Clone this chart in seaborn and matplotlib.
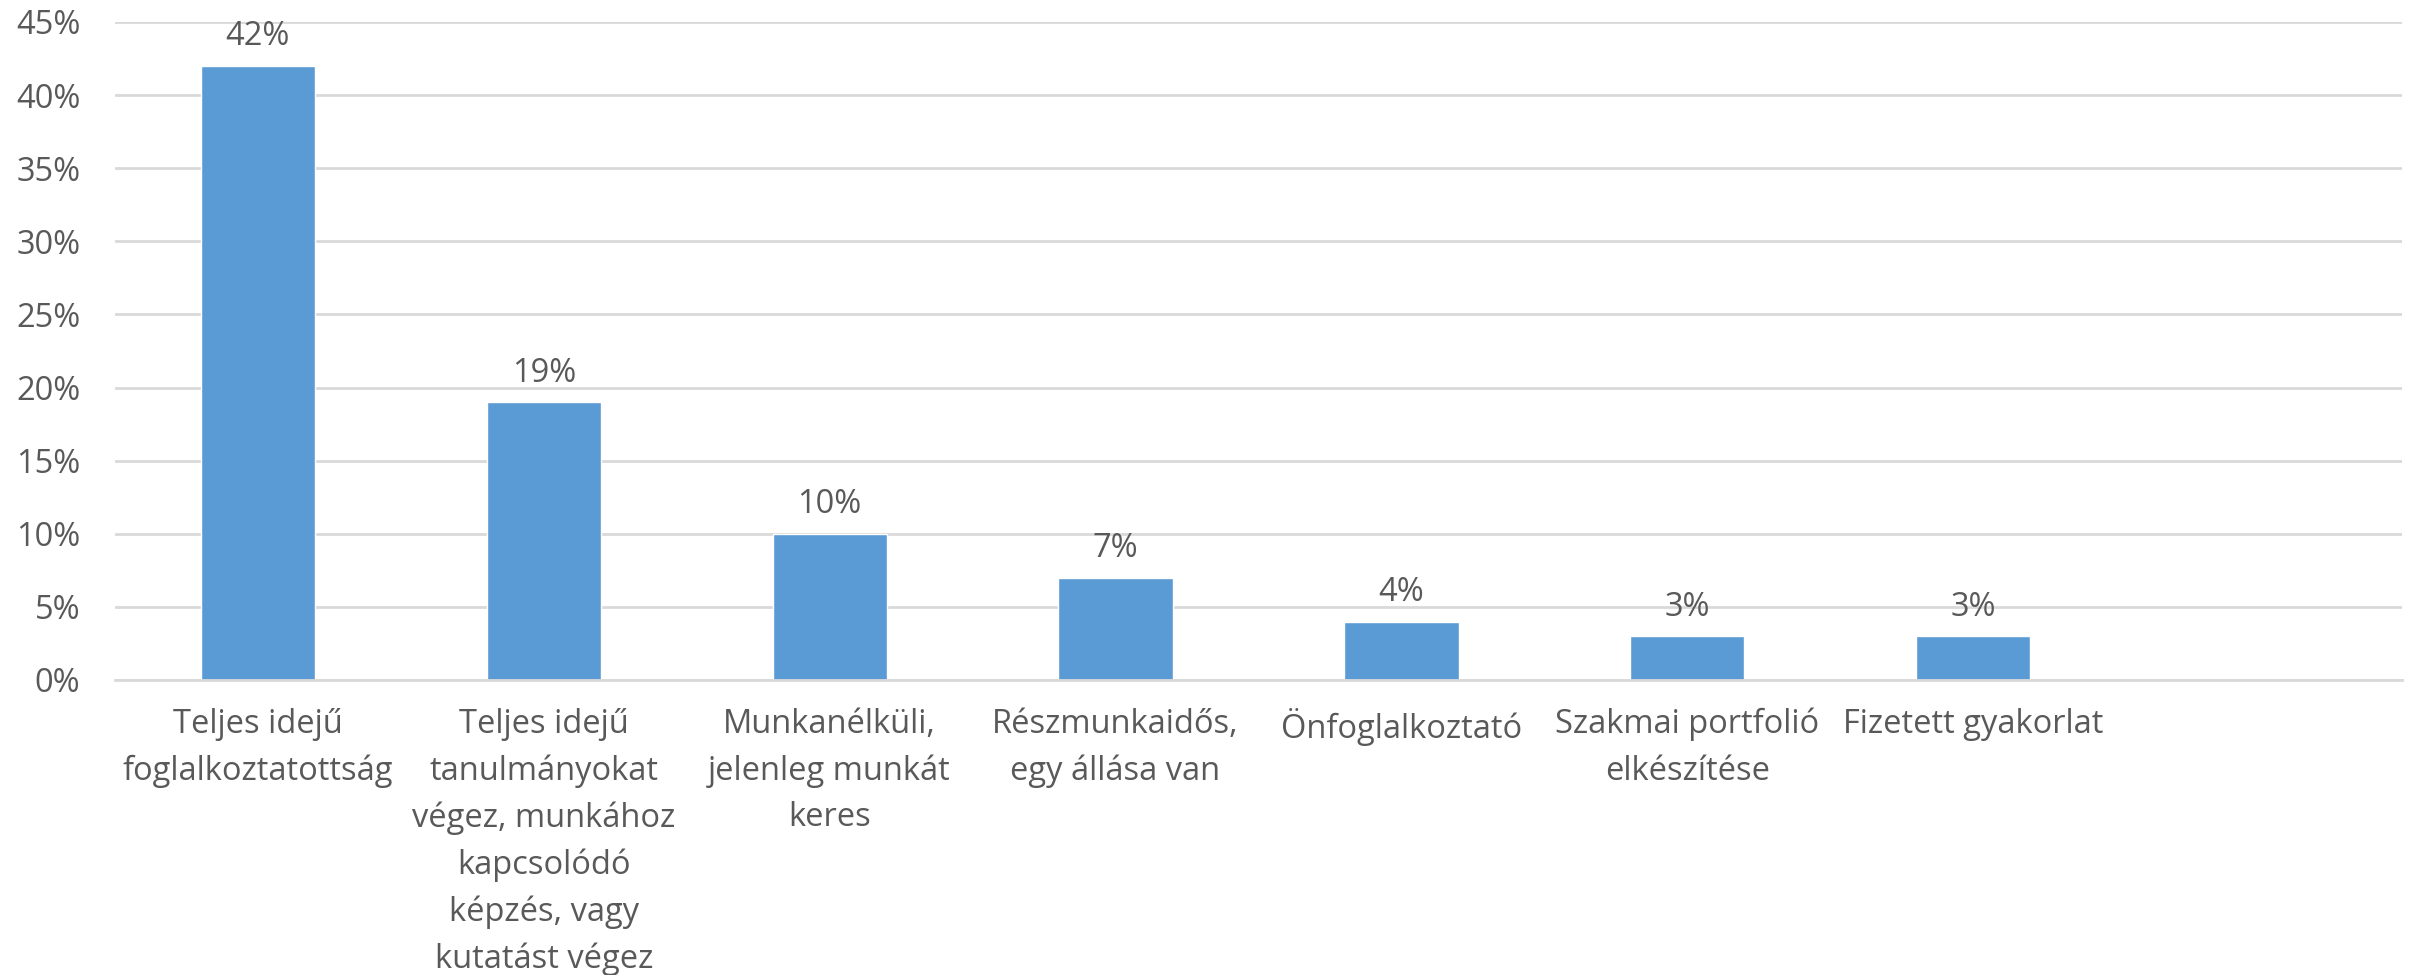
import matplotlib
matplotlib.use("Agg")
import matplotlib.pyplot as plt
import seaborn as sns
import pandas as pd

categories = [
    "Teljes idejű\nfoglalkoztatottság",
    "Teljes idejű\ntanulmányokat\nvégez, munkához\nkapcsolódó\nképzés, vagy\nkutatást végez",
    "Munkanélküli,\njelenleg munkát\nkeres",
    "Részmunkaidős,\negy állása van",
    "Önfoglalkoztató",
    "Szakmai portfolió\nelkészítése",
    "Fizetett gyakorlat",
]
values = [42, 19, 10, 7, 4, 3, 3]
yticks = [0, 5, 10, 15, 20, 25, 30, 35, 40, 45]

sns.set_theme(style="white")
plt.rcParams['font.family'] = ['Open Sans', 'DejaVu Sans']

TEXT = "#595959"
GRID = "#d9d9d9"
BAR = "#5b9bd5"
FS = 23.5

df = pd.DataFrame({"cat": categories, "val": values})

fig = plt.figure(figsize=(24.17, 9.75), dpi=100)
ax = fig.add_axes([115 / 2417, 1 - 680 / 975, (2402 - 115) / 2417, (680 - 22) / 975])

sns.barplot(data=df, x="cat", y="val", color=BAR, width=0.4, saturation=1, ax=ax)

ax.set_xlim(-0.5, 7.5)
ax.set_ylim(0, 45)
ax.set_yticks(yticks)
ax.set_yticklabels([f"{v}%" for v in yticks])
ax.yaxis.grid(True, color=GRID, linewidth=2)
ax.set_axisbelow(True)
for s in ["top", "right", "left"]:
    ax.spines[s].set_visible(False)
ax.spines["bottom"].set_color(GRID)
ax.spines["bottom"].set_linewidth(2)
ax.set_xlabel("")
ax.set_ylabel("")
ax.tick_params(axis="both", length=0, labelsize=FS, colors=TEXT)
ax.tick_params(axis="x", pad=20)
ax.tick_params(axis="y", pad=25)
for lbl in ax.get_xticklabels():
    lbl.set_linespacing(1.53)
    lbl.set_va("top")

ax.bar_label(ax.containers[0], labels=[f"{v}%" for v in values],
             padding=9, fontsize=FS, color=TEXT)

fig.savefig("out.png", dpi=100, facecolor="white")
